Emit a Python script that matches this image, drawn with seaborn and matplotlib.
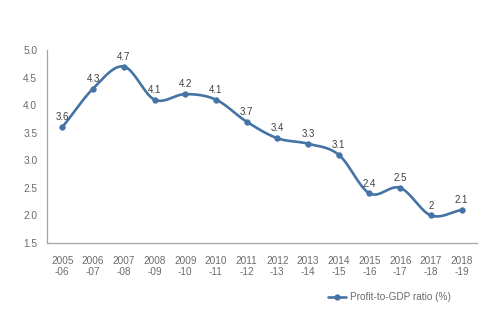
import numpy as np
import pandas as pd
import matplotlib
matplotlib.use("Agg")
import matplotlib.pyplot as plt
import seaborn as sns

years = ["2005\n-06", "2006\n-07", "2007\n-08", "2008\n-09", "2009\n-10", "2010\n-11", "2011\n-12",
         "2012\n-13", "2013\n-14", "2014\n-15", "2015\n-16", "2016\n-17", "2017\n-18", "2018\n-19"]
ratio = [3.6, 4.3, 4.7, 4.1, 4.2, 4.1, 3.7, 3.4, 3.3, 3.1, 2.4, 2.5, 2.0, 2.1]
value_labels = ["3.6", "4.3", "4.7", "4.1", "4.2", "4.1", "3.7", "3.4", "3.3", "3.1", "2.4", "2.5", "2", "2.1"]
yticks = [1.5, 2.0, 2.5, 3.0, 3.5, 4.0, 4.5, 5.0]

sns.set_style("white")
plt.rcParams['font.family'] = ['Liberation Sans', 'DejaVu Sans']

color = "#4673A6"
gray = "#6B6B6B"

df = pd.DataFrame({"x": np.arange(len(years)), "y": ratio})

fig = plt.figure(figsize=(5.0, 3.26), dpi=100)
ax = fig.add_axes([0.094, 0.2546, 0.86, 0.592])

# smooth (spreadsheet-style smoothed line) rendering of the series
def smooth(xs, ys, n=20):
    xs = np.asarray(xs, float); ys = np.asarray(ys, float)
    px = np.concatenate([[2*xs[0]-xs[1]], xs, [2*xs[-1]-xs[-2]]])
    py = np.concatenate([[2*ys[0]-ys[1]], ys, [2*ys[-1]-ys[-2]]])
    ox, oy = [], []
    t = np.linspace(0, 1, n, endpoint=False)
    for i in range(1, len(px)-2):
        for arr, out in ((px, ox), (py, oy)):
            p0, p1, p2, p3 = arr[i-1], arr[i], arr[i+1], arr[i+2]
            m1 = (p2 - p0) / 2
            m2 = (p3 - p1) / 2
            h00 = 2*t**3 - 3*t**2 + 1
            h10 = t**3 - 2*t**2 + t
            h01 = -2*t**3 + 3*t**2
            h11 = t**3 - t**2
            out.extend(h00*p1 + h10*m1 + h01*p2 + h11*m2)
    ox.append(xs[-1]); oy.append(ys[-1])
    return np.array(ox), np.array(oy)

sx, sy = smooth(df["x"], df["y"])
ax.plot(sx, sy, color=color, lw=1.9, solid_capstyle="round", zorder=2)
sns.scatterplot(data=df, x="x", y="y", color=color, s=16, edgecolor=color, linewidth=0.5, ax=ax, zorder=3)

for xi, yi, lab in zip(df["x"], df["y"], value_labels):
    ax.annotate(lab, (xi, yi), xytext=(0, 3.5), textcoords="offset points",
                ha="center", va="bottom", fontsize=7, color="#404040")

ax.set_xlim(-0.5, len(years) - 0.5)
ax.set_ylim(1.5, 5.0)
ax.set_yticks(yticks)
ax.set_yticklabels([f"{v:.1f}" for v in yticks], fontsize=7.3, color=gray)
ax.set_xticks(df["x"])
ax.set_xticklabels(years, fontsize=7.2, color=gray, linespacing=1.15)
ax.tick_params(axis="y", length=0, pad=7)
ax.tick_params(axis="x", length=0, pad=9)
ax.set_xlabel("")
ax.set_ylabel("")
for s in ["top", "right"]:
    ax.spines[s].set_visible(False)
for s in ["left", "bottom"]:
    ax.spines[s].set_color("#A6A6A6")
    ax.spines[s].set_linewidth(0.9)

from matplotlib.lines import Line2D
h = Line2D([0], [0], color=color, lw=1.9, marker="o", markersize=3.5)
fig.legend([h], ["Profit-to-GDP ratio (%)"], loc="center", bbox_to_anchor=(0.778, 0.088),
           frameon=False, fontsize=7.2, labelcolor=gray, handlelength=1.8, handletextpad=0.4)

fig.savefig("out.png", dpi=100)
